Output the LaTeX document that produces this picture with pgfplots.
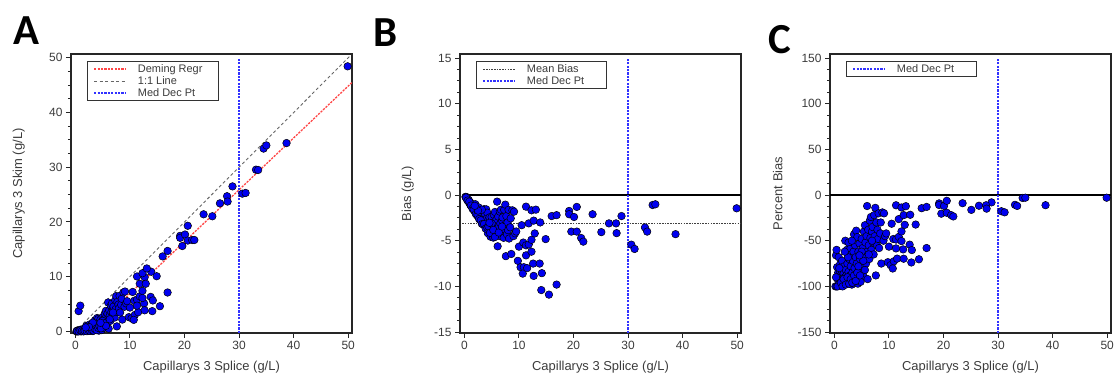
\documentclass[border=0pt]{standalone}
\usepackage{pgfplots}
\pgfplotsset{compat=1.18}
\usepackage{pgfplotstable}
\usepackage{fontspec}
\setmainfont{Liberation Sans}
\newfontfamily\letterfont{Carlito}
\definecolor{ptblue}{RGB}{0,0,240}
\definecolor{mdblue}{RGB}{50,50,255}
\definecolor{regred}{RGB}{255,70,70}
\definecolor{txt}{RGB}{60,60,60}

% x = Splice, s = Skim, b = bias (g/L), p = percent bias
\pgfplotstableread{
x s b p
0.2 0.00 -0.20 -100
0.3 0.10 -0.20 -66
0.4 0.16 -0.24 -60
0.4 0.00 -0.40 -100
0.5 0.10 -0.40 -79
0.6 0.05 -0.55 -92
0.7 0.10 -0.60 -85
0.8 0.26 -0.54 -68
0.8 0.08 -0.72 -90
0.9 0.03 -0.87 -97
1.0 0.17 -0.83 -83
1.1 0.27 -0.83 -75
1.1 0.01 -1.09 -99
1.2 0.14 -1.06 -88
1.3 0.08 -1.22 -94
1.4 0.39 -1.01 -72
1.4 0.10 -1.30 -93
1.5 0.22 -1.28 -85
1.6 0.05 -1.55 -97
1.7 0.24 -1.46 -86
1.8 0.40 -1.40 -78
1.8 0.09 -1.71 -95
1.9 0.19 -1.71 -90
2.0 1.00 -1.00 -50
2.0 0.10 -1.90 -95
2.1 0.38 -1.72 -82
2.2 0.26 -1.94 -88
2.3 0.92 -1.38 -60
2.3 0.07 -2.23 -97
2.4 0.60 -1.80 -75
2.5 0.20 -2.30 -92
2.6 1.25 -1.35 -52
2.6 0.42 -2.18 -84
2.7 0.81 -1.89 -70
2.8 0.14 -2.66 -95
2.9 1.19 -1.71 -59
2.9 0.35 -2.55 -88
3.0 0.66 -2.34 -78
3.1 1.08 -2.02 -65
3.2 0.06 -3.14 -98
3.3 0.49 -2.81 -85
3.4 0.95 -2.45 -72
3.5 1.33 -2.17 -62
3.5 0.28 -3.22 -92
3.6 2.05 -1.55 -43
3.7 0.74 -2.96 -80
3.8 1.71 -2.09 -55
3.9 1.25 -2.65 -68
4.0 2.44 -1.56 -39
4.0 0.40 -3.60 -90
4.1 1.02 -3.08 -75
4.2 2.27 -1.93 -46
4.3 0.13 -4.17 -97
4.4 1.67 -2.73 -62
4.5 0.76 -3.74 -83
4.6 2.16 -2.44 -53
4.7 1.41 -3.29 -70
4.8 0.24 -4.56 -95
4.9 1.71 -3.19 -65
5.0 2.60 -2.40 -48
5.1 1.12 -3.98 -78
5.2 2.18 -3.02 -58
5.3 0.64 -4.66 -88
5.4 3.24 -2.16 -40
5.5 1.76 -3.74 -68
5.6 3.75 -1.85 -33
5.7 2.74 -2.96 -52
5.8 1.45 -4.35 -75
5.9 3.24 -2.66 -45
6.0 5.28 -0.72 -12
6.0 2.28 -3.72 -62
6.1 0.49 -5.61 -92
6.2 3.84 -2.36 -38
6.3 2.83 -3.47 -55
6.4 1.92 -4.48 -70
6.5 4.68 -1.82 -28
6.6 3.50 -3.10 -47
6.7 5.09 -1.61 -24
6.8 2.72 -4.08 -60
6.9 4.14 -2.76 -40
7.0 4.55 -2.45 -35
7.1 3.41 -3.69 -52
7.2 2.52 -4.68 -65
7.3 5.69 -1.61 -22
7.4 4.07 -3.33 -45
7.5 6.45 -1.05 -14
7.6 0.91 -6.69 -88
7.7 5.39 -2.31 -30
7.8 3.51 -4.29 -55
7.9 4.90 -3.00 -38
8.0 4.16 -3.84 -48
8.1 6.48 -1.62 -20
8.2 3.44 -4.76 -58
8.4 4.87 -3.53 -42
8.5 5.95 -2.55 -30
8.6 2.15 -6.45 -75
8.8 7.13 -1.67 -19
9.0 4.50 -4.50 -50
9.1 7.28 -1.82 -20
9.3 5.11 -4.19 -45
9.5 5.51 -3.99 -42
10.0 4.35 -5.65 -56.5
9.8 2.60 -7.20 -73.5
10.3 2.40 -7.90 -76.7
10.9 3.00 -7.90 -72.5
10.7 2.10 -8.60 -80.4
11.5 3.50 -8.00 -69.6
12.6 5.10 -7.50 -59.5
13.8 6.30 -7.50 -54.3
12.7 3.85 -8.85 -69.7
14.2 5.65 -8.55 -60.2
14.1 3.70 -10.40 -73.8
15.5 4.60 -10.90 -70.3
16.9 7.10 -9.80 -58.0
10.8 5.60 -5.20 -48.1
11.3 5.80 -5.50 -48.7
11.8 6.40 -5.40 -45.8
12.3 7.40 -4.90 -39.8
11.3 4.70 -6.60 -58.4
12.3 6.10 -6.20 -50.4
10.5 7.20 -3.30 -31.4
11.8 8.70 -3.10 -26.3
12.7 9.90 -2.80 -22.0
13.9 10.90 -3.00 -21.6
12.9 8.70 -4.20 -32.6
11.3 10.03 -1.27 -11.2
12.3 10.63 -1.67 -13.6
13.1 11.50 -1.60 -12.2
14.9 10.08 -4.82 -32.3
16.0 13.70 -2.30 -14.4
16.9 14.70 -2.20 -13.0
19.2 17.46 -1.74 -9.1
19.2 17.10 -2.10 -10.9
20.1 17.70 -2.40 -11.9
20.6 19.30 -1.30 -6.3
23.5 21.40 -2.10 -8.9
28.8 26.50 -2.30 -8.0
26.5 23.40 -3.10 -11.7
27.8 24.70 -3.10 -11.2
19.6 15.60 -4.00 -20.4
20.6 16.60 -4.00 -19.4
21.4 16.70 -4.70 -22.0
21.8 16.70 -5.10 -23.4
25.1 21.04 -4.06 -16.2
27.9 23.73 -4.17 -14.9
30.6 25.17 -5.43 -17.7
31.2 25.30 -5.90 -18.9
33.1 29.55 -3.55 -10.7
33.5 29.50 -4.00 -11.9
34.5 33.41 -1.09 -3.2
35.0 33.99 -1.01 -2.9
38.7 34.42 -4.28 -11.1
49.9 48.45 -1.45 -2.9
0.3 0.03 -0.27 -90
0.6 0.00 -0.60 -100
0.9 0.18 -0.72 -80
1.2 0.05 -1.15 -96
1.5 0.00 -1.50 -100
1.7 0.14 -1.56 -92
2.1 0.04 -2.06 -98
2.4 0.24 -2.16 -90
2.7 0.08 -2.62 -97
3.0 0.24 -2.76 -92
3.3 0.13 -3.17 -96
3.6 0.43 -3.17 -88
3.9 0.23 -3.67 -94
4.2 0.63 -3.57 -85
4.4 0.97 -3.43 -78
4.7 0.56 -4.14 -88
5.0 1.90 -3.10 -62
5.3 1.48 -3.82 -72
5.6 1.01 -4.59 -82
6.3 2.20 -4.10 -65
6.9 3.45 -3.45 -50
3.2 1.60 -1.60 -50
2.5 0.80 -1.70 -68
1.9 0.72 -1.18 -62
4.6 1.56 -3.04 -66
}\data

% points shown only in the method-comparison panel
\pgfplotstableread{
x s
0.6 3.7
0.9 4.7
}\extraA

\pgfplotsset{
  panel/.style={
    scale only axis, width=281bp, height=279bp,
    axis line style={line width=1.3bp, black!85},
    tick style={black!85, line width=0.9bp},
    tick align=outside, major tick length=5bp, minor tick length=3bp,
    xtick pos=bottom, ytick pos=left,
    minor y tick num=3,
    xmin=-0.8, xmax=50.7, xtick={0,10,...,50},
    tick label style={font=\fontsize{12}{14}\selectfont, text=txt},
    /pgf/number format/assume math mode=true,
    label style={font=\fontsize{13}{15}\selectfont, text=txt},
    xlabel={Capillarys 3 Splice (g/L)},
    xlabel style={at={(axis description cs:0.5,-0.121)}, anchor=center},
    ylabel style={at={(axis description cs:-0.186,0.5)}, anchor=center},
    legend cell align=left,
    legend image code/.code={\path (-3bp,0bp); \draw[##1] (0bp,0bp) -- (32bp,0bp); \path (41bp,0bp);},
    legend style={at={(axis description cs:0.057,0.975)}, anchor=north west,
      draw=black!80, line width=0.9bp, font=\fontsize{11}{11.5}\selectfont,
      inner ysep=1bp, row sep=-1.5bp},
  },
  pts/.style={only marks, mark=*, mark size=3.8bp,
    mark options={fill=ptblue, draw=black, line width=0.5bp}},
  mdline/.style={draw=mdblue, color=mdblue, dash pattern=on 2.2bp off 1.2bp, line width=1.5bp},
}

\begin{document}
\begin{tikzpicture}
\path[use as bounding box] (0bp,0bp) rectangle (1116bp,379bp);

\node[font=\letterfont\bfseries\fontsize{43}{43}\selectfont] at (26bp,348bp) {A};
\node[font=\letterfont\bfseries\fontsize{43}{43}\selectfont] at (386bp,346bp) {B};
\node[font=\letterfont\bfseries\fontsize{43}{43}\selectfont] at (780bp,339bp) {C};

% ---------- A ----------
\begin{axis}[panel, at={(71bp,46bp)}, anchor=south west,
  ymin=-0.3, ymax=50.7, ytick={0,10,...,50},
  ylabel={Capillarys 3 Skim (g/L)}]
\addplot[draw=regred, color=regred, dash pattern=on 2.2bp off 1.2bp, line width=1.3bp] coordinates {(2.5,-0.2) (50.7,45.5)};
\addlegendentry{\makebox[76bp][l]{\color{txt}Deming Regr}}
\addplot[draw=black!60, color=black!60, dash pattern=on 3bp off 2.5bp, line width=0.9bp] coordinates {(0,0) (50.5,50.5)};
\addlegendentry{\color{txt}1:1 Line}
\addplot[mdline] coordinates {(30,-0.3) (30,50)};
\addlegendentry{\color{txt}Med Dec Pt}
\addplot[pts, forget plot] table[x=x, y=s] {\data};
\addplot[pts, forget plot] table[x=x, y=s] {\extraA};
\end{axis}

% ---------- B ----------
\begin{axis}[panel, at={(460bp,46bp)}, anchor=south west,
  ymin=-15.1, ymax=15.44, ytick={-15,-10,...,15},
  ylabel={Bias (g/L)}]
\addplot[black, line width=1.2bp, forget plot] coordinates {(0,0) (50.7,0)};
\addplot[draw=black!75, color=black!75, dash pattern=on 1.6bp off 1.1bp, line width=0.9bp] coordinates {(-0.4,-3.13) (50.7,-3.13)};
\addlegendentry{\makebox[75bp][l]{\color{txt}Mean Bias}}
\addplot[mdline] coordinates {(30,-15.1) (30,15)};
\addlegendentry{\color{txt}Med Dec Pt}
\addplot[pts, forget plot] table[x=x, y=b] {\data};
\end{axis}

% ---------- C ----------
\begin{axis}[panel, at={(830bp,46bp)}, anchor=south west,
  ymin=-151, ymax=154.4, ytick={-150,-100,...,150},
  ylabel={Percent Bias}]
\addplot[black, line width=1.2bp, forget plot] coordinates {(-0.8,0) (50.7,0)};
\addplot[mdline] coordinates {(30,-151) (30,150)};
\addlegendentry{\makebox[75bp][l]{\color{txt}Med Dec Pt}}
\addplot[pts, forget plot] table[x=x, y=p] {\data};
\end{axis}
\end{tikzpicture}
\end{document}
